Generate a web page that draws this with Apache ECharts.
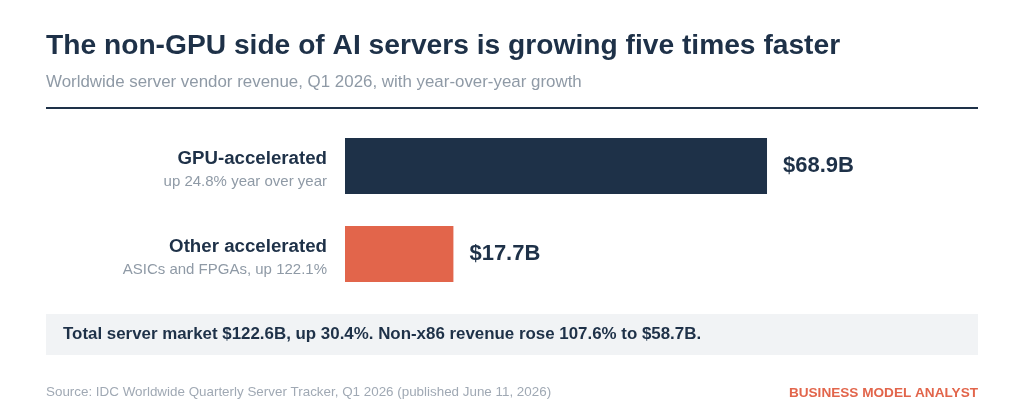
<!DOCTYPE html>
<html>
<head>
<meta charset="utf-8">
<script src="https://cdn.jsdelivr.net/npm/echarts@6/dist/echarts.min.js"></script>
<style>
  html, body { margin: 0; padding: 0; background: #fff; }
  #chart { width: 1024px; height: 416px; }
</style>
</head>
<body>
<div id="chart"></div>
<script>
const categories = ['GPU-accelerated', 'Other accelerated'];
const subLabels = ['up 24.8% year over year', 'ASICs and FPGAs, up 122.1%'];
const revenue = [68.9, 17.7];
const barColors = ['#1e3148', '#e2654b'];

const FONT = '"Liberation Sans", Arial, sans-serif';
const chart = echarts.init(document.getElementById('chart'));

const option = {
  animation: false,
  textStyle: { fontFamily: FONT },
  grid: { left: 345, right: 66.5, top: 122, height: 176 },
  xAxis: { type: 'value', min: 0, max: 100, show: false },
  yAxis: {
    type: 'category',
    inverse: true,
    data: categories,
    axisLine: { show: false },
    axisTick: { show: false },
    axisLabel: {
      margin: 18,
      align: 'right',
      padding: [6, 0, 0, 0],
      formatter: (v, i) => '{a|' + v + '}\n{b|' + subLabels[i] + '}',
      rich: {
        a: { fontFamily: FONT, fontSize: 18.7, fontWeight: 'bold', color: '#1e3148', align: 'right', lineHeight: 26 },
        b: { fontFamily: FONT, fontSize: 15, color: '#8f9aa6', align: 'right', lineHeight: 20 }
      }
    }
  },
  series: [{
    type: 'bar',
    barWidth: 56,
    data: revenue.map((v, i) => ({ value: v, itemStyle: { color: barColors[i] } })),
    label: {
      show: true,
      position: 'right',
      distance: 16,
      formatter: p => '$' + p.value.toFixed(1) + 'B',
      fontFamily: FONT,
      fontSize: 22,
      fontWeight: 'bold',
      color: '#1e3148'
    }
  }],
  graphic: [
    { type: 'text', left: 46, top: 32, style: { text: 'The non-GPU side of AI servers is growing five times faster', font: 'bold 28.2px ' + FONT, fill: '#1e3148' } },
    { type: 'text', left: 46, top: 74, style: { text: 'Worldwide server vendor revenue, Q1 2026, with year-over-year growth', font: '16.9px ' + FONT, fill: '#8f9aa6' } },
    { type: 'rect', shape: { x: 46, y: 107, width: 932, height: 2 }, style: { fill: '#1e3148' } },
    { type: 'rect', shape: { x: 46, y: 314, width: 932, height: 41 }, style: { fill: '#f1f3f5' } },
    { type: 'text', left: 63, top: 326, style: { text: 'Total server market $122.6B, up 30.4%. Non-x86 revenue rose 107.6% to $58.7B.', font: 'bold 16.9px ' + FONT, fill: '#1e3148' } },
    { type: 'text', left: 46, top: 386, style: { text: 'Source: IDC Worldwide Quarterly Server Tracker, Q1 2026 (published June 11, 2026)', font: '13.4px ' + FONT, fill: '#a0a9b4' } },
    { type: 'text', right: 46, top: 386, style: { text: 'BUSINESS MODEL ANALYST', font: 'bold 13.6px ' + FONT, fill: '#e2654b' } }
  ]
};
chart.setOption(option);
</script>
</body>
</html>
